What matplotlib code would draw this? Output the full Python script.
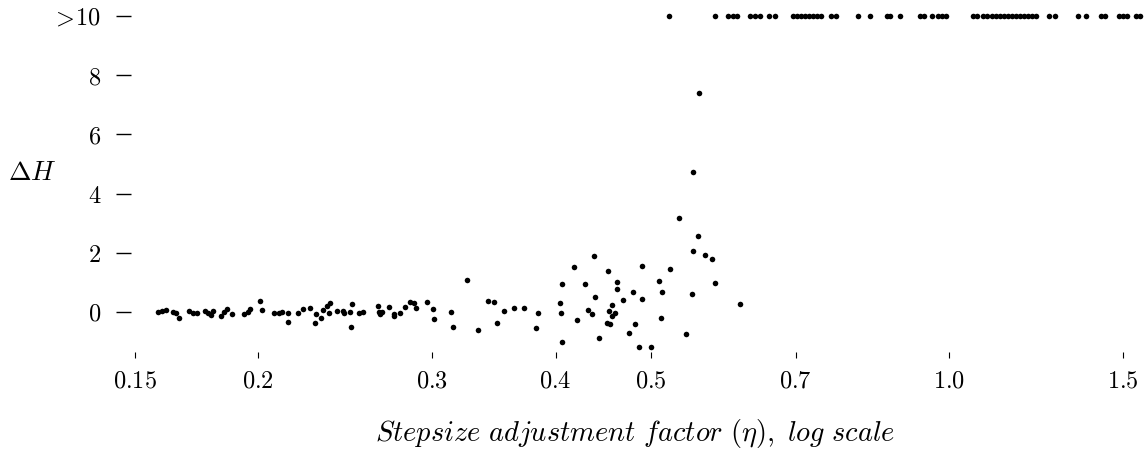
import matplotlib
matplotlib.use('Agg')
import matplotlib.pyplot as plt
from matplotlib.ticker import NullLocator

plt.rcParams['font.family'] = ['DejaVu Serif']
plt.rcParams['mathtext.fontset'] = 'cm'

# ---- data ----
eta_low = [0.1585, 0.1600, 0.1614, 0.1639, 0.1650, 0.1662, 0.1704, 0.1720, 0.1733, 0.1768,
           0.1778, 0.1791, 0.1802, 0.1836, 0.1848, 0.1861, 0.1882, 0.1937, 0.1952, 0.1963,
           0.2009, 0.2020, 0.2075, 0.2100, 0.2115, 0.2142, 0.2145, 0.2196, 0.2223, 0.2255,
           0.2286, 0.2291, 0.2316, 0.2324, 0.2348, 0.2365, 0.2357, 0.2402, 0.2435, 0.2443,
           0.2478, 0.2489, 0.2486, 0.2530, 0.2551, 0.2647, 0.2651, 0.2657, 0.2670, 0.2714,
           0.2747, 0.2745, 0.2784, 0.2817, 0.2850, 0.2876, 0.2888, 0.2963, 0.3009, 0.3010,
           0.3132, 0.3152, 0.3256, 0.3335, 0.3420, 0.3462, 0.3493, 0.3548, 0.3631, 0.3717,
           0.3818, 0.3838, 0.4042, 0.4049, 0.4059, 0.4061, 0.4179, 0.4201, 0.4288, 0.4312,
           0.4359, 0.4376, 0.4386, 0.4427, 0.4518, 0.4507, 0.4545, 0.4532, 0.4558, 0.4563,
           0.4598, 0.4614, 0.4620, 0.4685, 0.4751, 0.4789, 0.4818, 0.4860, 0.4894, 0.4894,
           0.4998, 0.5088, 0.5112, 0.5124, 0.5228, 0.5335, 0.5423, 0.5499, 0.5508, 0.5508,
           0.5585, 0.5580, 0.5664, 0.5765, 0.5802, 0.6154]
dH_low = [0.00, 0.02, 0.06, 0.00, -0.02, -0.19, 0.04, -0.02, -0.04, 0.03,
          -0.04, -0.09, 0.04, -0.14, 0.00, 0.10, -0.08, -0.06, 0.00, 0.11,
          0.37, 0.08, -0.02, -0.05, 0.00, -0.02, -0.35, -0.03, 0.10, 0.14,
          -0.38, -0.08, -0.20, 0.07, 0.20, 0.30, -0.02, 0.03, 0.05, -0.04,
          -0.01, 0.27, -0.50, -0.04, 0.00, 0.20, 0.01, -0.07, 0.00, 0.18,
          -0.07, -0.15, -0.04, 0.16, 0.34, 0.29, 0.13, 0.33, 0.10, -0.22,
          0.01, -0.50, 1.09, -0.62, 0.37, 0.34, -0.36, 0.04, 0.13, 0.15,
          -0.55, -0.04, 0.29, -0.02, 0.96, -1.01, 1.52, -0.28, 0.95, 0.07,
          -0.07, 1.89, 0.52, -0.88, 1.38, -0.36, -0.42, 0.03, 0.23, -0.14,
          -0.04, 1.02, 0.76, 0.39, -0.70, 0.69, -0.40, -1.18, 1.57, 0.44,
          -1.18, 1.05, -0.19, 0.67, 1.45, 3.17, -0.74, 0.61, 2.07, 4.72,
          7.41, 2.57, 1.92, 1.80, 0.99, 0.26]

# runs where Delta H exceeded 10 (drawn on the ">10" line)
eta_over = [0.5212, 0.5802, 0.5980, 0.6043, 0.6107, 0.6295, 0.6369, 0.6443, 0.6580, 0.6673,
            0.6959, 0.7024, 0.7090, 0.7156, 0.7223, 0.7291, 0.7359, 0.7428, 0.7603, 0.7692,
            0.8097, 0.8327, 0.8663, 0.8724, 0.8930, 0.9356, 0.9444, 0.9622, 0.9757, 0.9848,
            0.9941, 1.0586, 1.0685, 1.0836, 1.0938, 1.1066, 1.1169, 1.1274, 1.1380, 1.1486,
            1.1594, 1.1702, 1.1812, 1.1923, 1.2034, 1.2147, 1.2261, 1.2638, 1.2816, 1.3522,
            1.3777, 1.4267, 1.4401, 1.4878, 1.5018, 1.5158, 1.5480, 1.5625]
over_level = 10

x_ticks = [0.15, 0.2, 0.3, 0.4, 0.5, 0.7, 1.0, 1.5]
x_tick_labels = ['0.15', '0.2', '0.3', '0.4', '0.5', '0.7', '1.0', '1.5']
y_ticks = [0, 2, 4, 6, 8, 10]
y_tick_labels = ['0', '2', '4', '6', '8', r'\!>\!10']

assert len(eta_low) == len(dH_low)

# ---- figure ----
W, H = 1147, 462
fig = plt.figure(figsize=(W / 100, H / 100), dpi=100)
ax = fig.add_axes([131 / W, (H - 349) / H, (1147 - 131) / W, (349 - 10) / H])
ax.set_xscale('log')
ax.set_xlim(0.1487, 1.588)
ax.set_ylim(-1.25, 10.2)

ax.scatter(eta_low, dH_low, s=16, c='black', linewidths=0, clip_on=False)
ax.scatter(eta_over, [over_level] * len(eta_over), s=16, c='black', linewidths=0, clip_on=False)

for sp in ax.spines.values():
    sp.set_visible(False)
ax.spines['bottom'].set_position(('outward', 2))

ax.set_xticks(x_ticks)
ax.set_xticklabels(['$%s$' % t for t in x_tick_labels])
ax.xaxis.set_minor_locator(NullLocator())
ax.set_yticks(y_ticks)
ax.set_yticklabels(['$%s$' % t for t in y_tick_labels])
ax.tick_params(axis='y', direction='out', length=11, width=1.0, pad=10.5, labelsize=17.5)
ax.tick_params(axis='x', direction='out', length=4.5, width=0.8, pad=8, labelsize=17.5)

fig.text(8 / W, 1 - 172 / H, r'$\Delta H$', ha='left', va='center', fontsize=19.5)
fig.text(635 / W, 1 - 433 / H,
         r'$\mathit{Stepsize\ adjustment\ factor\ (\eta),\ log\ scale}$',
         ha='center', va='center', fontsize=20.5)

fig.savefig('out.png', dpi=100)
